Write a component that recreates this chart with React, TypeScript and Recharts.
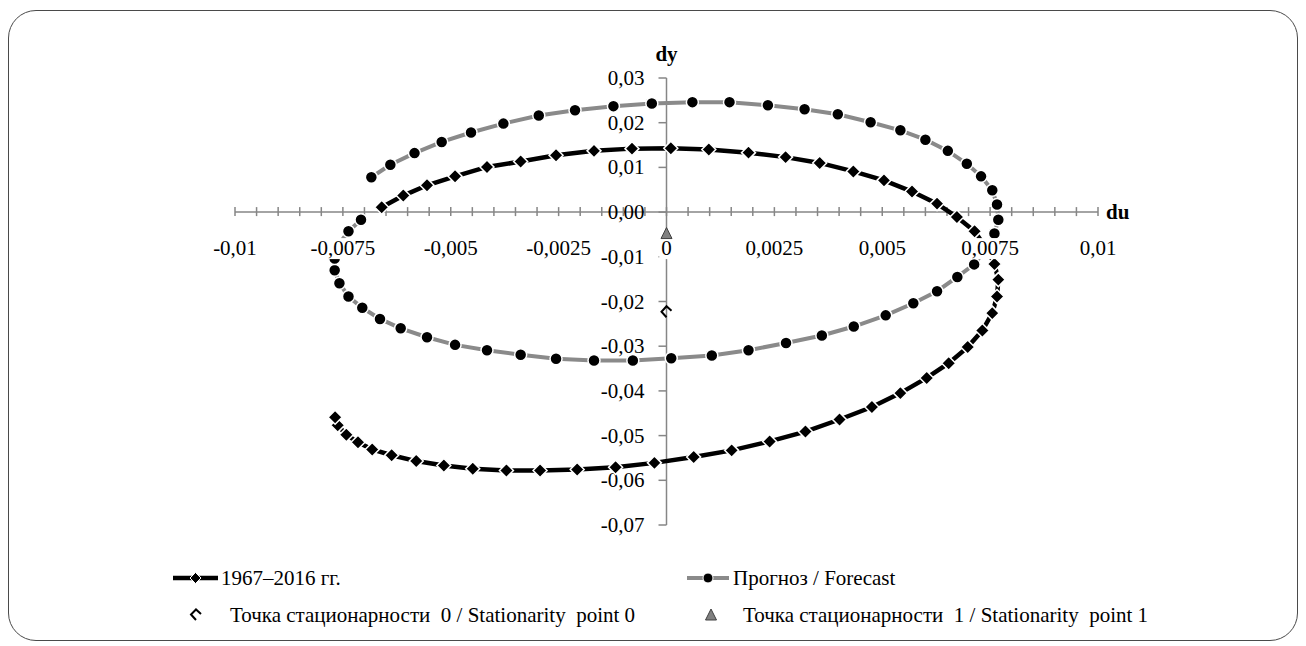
import { Scatter, ScatterChart, XAxis, YAxis } from 'recharts'

// 1967–2016 (50 points, clockwise from the top-left end)
const HIST_DU = [
  -0.0066, -0.0061, -0.00555, -0.0049, -0.00416, -0.00338, -0.00256, -0.00168, -0.0008, 0.0001,
  0.00098, 0.0019, 0.00276, 0.00355, 0.00433, 0.00504, 0.00569, 0.00627, 0.00673, 0.00714,
  0.0074, 0.0076, 0.00769, 0.00766, 0.00755, 0.00732, 0.00698, 0.00654, 0.00603, 0.00542,
  0.00476, 0.00401, 0.00322, 0.00239, 0.00151, 0.00063, -0.00028, -0.00118, -0.00207, -0.00293,
  -0.00371, -0.00449, -0.00516, -0.0058, -0.00637, -0.00682, -0.00715, -0.00742, -0.00762, -0.00768,
]
const HIST_DY = [
  0.0011, 0.0037, 0.006, 0.008, 0.0101, 0.0113, 0.0127, 0.0137, 0.0142, 0.0143,
  0.014, 0.0133, 0.0123, 0.011, 0.0091, 0.0071, 0.0046, 0.0019, -0.0011, -0.0043,
  -0.0079, -0.0116, -0.0151, -0.0189, -0.0226, -0.0265, -0.0302, -0.0338, -0.0371, -0.0405,
  -0.0436, -0.0464, -0.0491, -0.0513, -0.0533, -0.0548, -0.0561, -0.0571, -0.0576, -0.0578,
  -0.0578, -0.0574, -0.0567, -0.0557, -0.0544, -0.0531, -0.0515, -0.0498, -0.0477, -0.0459,
]

// Прогноз / Forecast
const FORE_DU = [
  -0.00684, -0.0064, -0.00584, -0.00521, -0.00453, -0.00378, -0.00296, -0.00212, -0.00123, -0.00034,
  0.0006, 0.00146, 0.00235, 0.0032, 0.00397, 0.00473, 0.00542, 0.006, 0.00652, 0.00696,
  0.00729, 0.00755, 0.00766, 0.00769, 0.0076, 0.0074, 0.00713, 0.00674, 0.00627, 0.00572,
  0.00508, 0.00434, 0.0036, 0.00277, 0.0019, 0.00105, 0.00011, -0.00078, -0.00168, -0.00256,
  -0.00338, -0.00416, -0.0049, -0.00555, -0.00616, -0.00664, -0.00705, -0.00737, -0.00758, -0.00769,
  -0.00769, -0.0076, -0.00737, -0.00708,
]
const FORE_DY = [
  0.0078, 0.0106, 0.0132, 0.0157, 0.0178, 0.0198, 0.0216, 0.0228, 0.0237, 0.0243,
  0.0246, 0.0246, 0.0239, 0.023, 0.0219, 0.0201, 0.0183, 0.0162, 0.0137, 0.0108,
  0.008, 0.0049, 0.0017, -0.0017, -0.0048, -0.0083, -0.0117, -0.0145, -0.0177, -0.0204,
  -0.0231, -0.0256, -0.0276, -0.0293, -0.0309, -0.0321, -0.0327, -0.0332, -0.0332, -0.0328,
  -0.0319, -0.0309, -0.0297, -0.028, -0.026, -0.0239, -0.0214, -0.0189, -0.0159, -0.013,
  -0.0104, -0.0073, -0.0043, -0.0017,
]

const STAT0_DU = [0]
const STAT0_DY = [-0.0223]
const STAT1_DU = [0]
const STAT1_DY = [-0.0048]

const X_DOMAIN = [-0.01, 0.01]
const Y_DOMAIN = [-0.07, 0.03]
const X_LABELS = [-0.01, -0.0075, -0.005, -0.0025, 0, 0.0025, 0.005, 0.0075, 0.01]
const Y_TICKS = [0.03, 0.02, 0.01, 0, -0.01, -0.02, -0.03, -0.04, -0.05, -0.06, -0.07]
const X_MINOR_STEP = 0.0005

const FONT = '"Liberation Serif", "Times New Roman", serif'
const AXIS = '#868686'
const GRAY = '#8a8a8a'

const toPoints = (du: number[], dy: number[]) => du.map((x, i) => ({ du: x, dy: dy[i] }))
const fmtX = (v: number) => (v === 0 ? '0' : String(v).replace('.', ','))
const fmtY = (v: number) => (Math.abs(v) < 1e-9 ? '0,00' : v.toFixed(2).replace('.', ','))

const minorTicks: { du: number; dy: number }[] = []
for (let i = 0; i <= Math.round((X_DOMAIN[1] - X_DOMAIN[0]) / X_MINOR_STEP); i++) {
  minorTicks.push({ du: X_DOMAIN[0] + i * X_MINOR_STEP, dy: 0 })
}

const Diamond = ({ cx, cy }: any) => (
  <path d={`M${cx},${cy - 7}L${cx + 7},${cy}L${cx},${cy + 7}L${cx - 7},${cy}Z`} fill="#000" stroke="#fff" strokeWidth={1.5} />
)
const Dot = ({ cx, cy }: any) => <circle cx={cx} cy={cy} r={6} fill="#000" stroke="#fff" strokeWidth={1.5} />
const OpenDiamond = ({ cx, cy }: any) => (
  <path
    d={`M${cx + 5},${cy - 1}L${cx},${cy - 5.5}L${cx - 5},${cy}L${cx},${cy + 5.5}`}
    fill="none"
    stroke="#000"
    strokeWidth={2}
  />
)
const Triangle = ({ cx, cy }: any) => (
  <path d={`M${cx},${cy - 6}L${cx + 5.5},${cy + 5}L${cx - 5.5},${cy + 5}Z`} fill="#808080" stroke="#404040" strokeWidth={1} />
)
const Empty = () => <g />

const XTick = ({ cx, cy }: any) => <line x1={cx} x2={cx} y1={cy - 5} y2={cy + 4} stroke={AXIS} strokeWidth={1.5} />
const YTick = ({ cx, cy, payload }: any) => (
  <g>
    <line x1={cx - 8} x2={cx} y1={cy} y2={cy} stroke={AXIS} strokeWidth={1.5} />
    <text x={cx - 22} y={cy + 7} textAnchor="end" fontFamily={FONT} fontSize={21} fill="#000">
      {fmtY(payload.dy)}
    </text>
  </g>
)
const XLabel = ({ cx, cy, payload }: any) => {
  const text = fmtX(payload.du)
  const w = text.length * 10.5 + 4
  return (
    <g>
      <rect x={cx - w / 2} y={cy + 26} width={w} height={21} fill="#fff" />
      <text x={cx} y={cy + 43} textAnchor="middle" fontFamily={FONT} fontSize={21} fill="#000">
        {text}
      </text>
    </g>
  )
}
const DyTitle = ({ cx, cy }: any) => (
  <text x={cx} y={cy - 17} textAnchor="middle" fontFamily={FONT} fontSize={21} fontWeight="bold" fill="#000">
    dy
  </text>
)
const DuTitle = ({ cx, cy }: any) => (
  <text x={cx + 8} y={cy + 7} fontFamily={FONT} fontSize={21} fontWeight="bold" fill="#000">
    du
  </text>
)

const Legend = () => (
  <svg width={1290} height={100} style={{ position: 'absolute', left: 0, top: 540 }}>
    <g fontFamily={FONT} fontSize={21} fill="#000">
      <line x1={165} x2={210} y1={30} y2={30} stroke="#000" strokeWidth={4.5} />
      <path d="M187.5,24.5L193,30L187.5,35.5L182,30Z" fill="#000" stroke="#fff" strokeWidth={1} />
      <text x={213} y={37}>1967–2016 гг.</text>

      <line x1={679} x2={721} y1={30} y2={30} stroke={GRAY} strokeWidth={4} />
      <circle cx={700} cy={30} r={5} fill="#000" stroke="#fff" strokeWidth={1} />
      <text x={725} y={37}>Прогноз / Forecast</text>

      <path d="M193,66L188,61.5L183,66.5L188,72" fill="none" stroke="#000" strokeWidth={2} />
      <text x={222} y={74} xmlSpace="preserve" style={{ whiteSpace: 'pre' }}>
        {'Точка стационарности\u00a0 0 / Stationarity\u00a0 point 0'}
      </text>

      <path d="M703,61L708.5,72L697.5,72Z" fill="#808080" stroke="#404040" strokeWidth={1} />
      <text x={735} y={74} xmlSpace="preserve" style={{ whiteSpace: 'pre' }}>
        {'Точка стационарности\u00a0 1 / Stationarity\u00a0 point 1'}
      </text>
    </g>
  </svg>
)

export default function App() {
  return (
    <div style={{ position: 'relative', width: 1290, height: 634, fontFamily: FONT }}>
      <div
        style={{
          position: 'absolute',
          left: 0,
          top: 2,
          width: 1290,
          height: 631,
          border: '1.5px solid #4a4a4a',
          borderRadius: 28,
          boxSizing: 'border-box',
        }}
      />
      <div style={{ position: 'absolute', left: 0, top: 0 }}>
        <ScatterChart width={1290} height={630} margin={{ top: 70, right: 200, bottom: 113, left: 227 }}>
          <XAxis type="number" dataKey="du" domain={X_DOMAIN} hide />
          <YAxis type="number" dataKey="dy" domain={Y_DOMAIN} hide />

          <Scatter data={toPoints(X_DOMAIN, [0, 0])} line={{ stroke: AXIS, strokeWidth: 1.5 }} shape={Empty} isAnimationActive={false} />
          <Scatter data={toPoints([0, 0], Y_DOMAIN)} line={{ stroke: AXIS, strokeWidth: 1.5 }} shape={Empty} isAnimationActive={false} />
          <Scatter data={minorTicks} shape={XTick} isAnimationActive={false} />
          <Scatter data={Y_TICKS.map((v) => ({ du: 0, dy: v }))} shape={YTick} isAnimationActive={false} />

          <Scatter
            name="1967–2016 гг."
            data={toPoints(HIST_DU, HIST_DY)}
            line={{ stroke: '#000', strokeWidth: 4.5 }}
            shape={Diamond}
            isAnimationActive={false}
          />
          <Scatter
            name="Прогноз / Forecast"
            data={toPoints(FORE_DU, FORE_DY)}
            line={{ stroke: GRAY, strokeWidth: 4 }}
            shape={Dot}
            isAnimationActive={false}
          />
          <Scatter data={toPoints(STAT0_DU, STAT0_DY)} shape={OpenDiamond} isAnimationActive={false} />

          <Scatter data={X_LABELS.map((v) => ({ du: v, dy: 0 }))} shape={XLabel} isAnimationActive={false} />
          <Scatter data={toPoints(STAT1_DU, STAT1_DY)} shape={Triangle} isAnimationActive={false} />
          <Scatter data={[{ du: 0, dy: Y_DOMAIN[1] }]} shape={DyTitle} isAnimationActive={false} />
          <Scatter data={[{ du: X_DOMAIN[1], dy: 0 }]} shape={DuTitle} isAnimationActive={false} />
        </ScatterChart>
      </div>
      <Legend />
    </div>
  )
}
